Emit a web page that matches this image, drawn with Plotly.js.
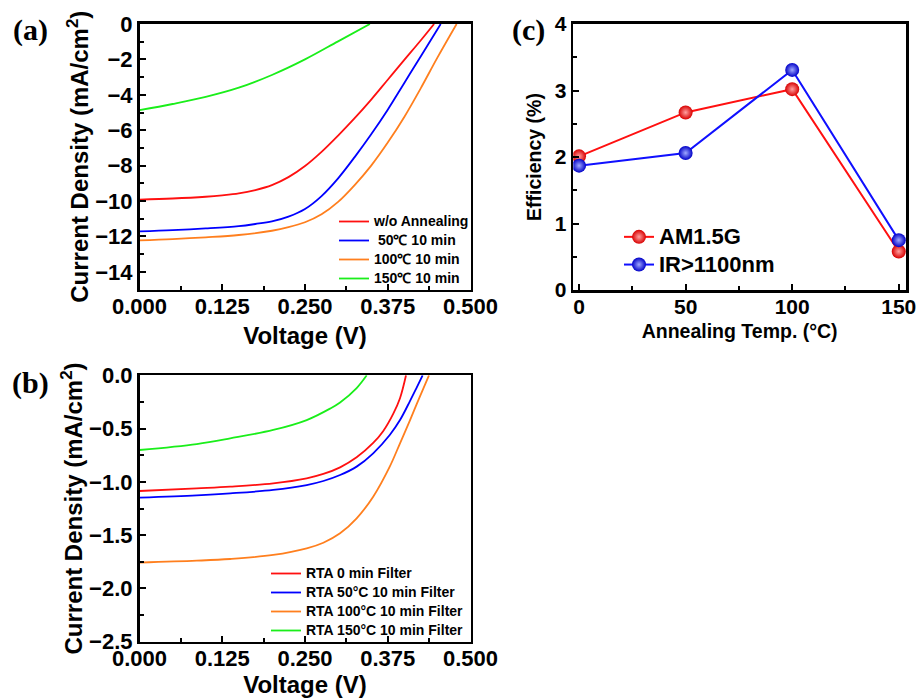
<!DOCTYPE html>
<html>
<head>
<meta charset="utf-8">
<script src="https://cdn.plot.ly/plotly-3.0.1.min.js"></script>
<style>html,body{margin:0;padding:0;background:#fff}#chart{width:918px;height:698px}</style>
</head>
<body>
<div id="chart"></div>
<script>
// ---------- Panel (a): J-V without filter ----------
const aNames = ['w/o Annealing', '\u00A050\u2103 10 min', '100\u2103 10 min', '150\u2103 10 min'];
const aRedV = [0, 0.05, 0.1, 0.125, 0.15, 0.175, 0.2, 0.225, 0.25, 0.275, 0.3, 0.325, 0.35, 0.375, 0.4, 0.425, 0.445];
const aRedJ = [-9.92, -9.86, -9.76, -9.68, -9.57, -9.38, -9.1, -8.65, -8.02, -7.22, -6.3, -5.32, -4.27, -3.15, -2.03, -0.92, 0];
const aBlueV = [0, 0.05, 0.1, 0.15, 0.175, 0.2, 0.225, 0.25, 0.275, 0.3, 0.325, 0.35, 0.375, 0.4, 0.425, 0.455];
const aBlueJ = [-11.72, -11.65, -11.55, -11.42, -11.3, -11.15, -10.88, -10.45, -9.72, -8.72, -7.52, -6.23, -4.84, -3.33, -1.82, 0];
const aOrangeV = [0, 0.05, 0.1, 0.15, 0.2, 0.225, 0.25, 0.275, 0.3, 0.325, 0.35, 0.375, 0.4, 0.425, 0.45, 0.479];
const aOrangeJ = [-12.22, -12.15, -12.05, -11.92, -11.68, -11.48, -11.2, -10.75, -10.05, -9.1, -8.0, -6.7, -5.25, -3.62, -1.9, 0];
const aGreenV = [0, 0.05, 0.1, 0.15, 0.2, 0.25, 0.3, 0.348];
const aGreenJ = [-4.87, -4.52, -4.12, -3.6, -2.88, -2.0, -0.98, 0];

// ---------- Panel (b): J-V with filter ----------
const bNames = ['RTA 0 min Filter', 'RTA 50\u00B0C 10 min Filter', 'RTA 100\u00B0C 10 min Filter', 'RTA 150\u00B0C 10 min Filter'];
const bRedV = [0, 0.0864, 0.137, 0.202, 0.2526, 0.2777, 0.303, 0.328, 0.353, 0.368, 0.3834, 0.3935, 0.4026];
const bRedJ = [-1.086, -1.061, -1.045, -1.014, -0.967, -0.926, -0.864, -0.77, -0.635, -0.525, -0.36, -0.215, 0];
const bBlueV = [0, 0.0864, 0.137, 0.202, 0.2526, 0.2777, 0.303, 0.328, 0.353, 0.378, 0.3935, 0.4087, 0.4187, 0.4277];
const bBlueJ = [-1.148, -1.126, -1.108, -1.076, -1.03, -0.992, -0.936, -0.857, -0.732, -0.56, -0.42, -0.24, -0.115, 0];
const bOrangeV = [0, 0.0864, 0.137, 0.202, 0.2526, 0.2777, 0.303, 0.328, 0.353, 0.378, 0.3935, 0.4087, 0.4187, 0.4287, 0.4373];
const bOrangeJ = [-1.758, -1.74, -1.724, -1.686, -1.624, -1.571, -1.483, -1.342, -1.139, -0.857, -0.638, -0.42, -0.27, -0.125, 0];
const bGreenV = [0, 0.0864, 0.137, 0.202, 0.2526, 0.2878, 0.303, 0.328, 0.3432];
const bGreenJ = [-0.701, -0.645, -0.592, -0.513, -0.42, -0.313, -0.255, -0.12, 0];

// ---------- Panel (c): efficiency vs annealing temperature ----------
const cTemps = [0, 50, 100, 150];
const cAM15G = [2.01, 2.67, 3.02, 0.58];
const cIR = [1.87, 2.06, 3.31, 0.75];
const cNames = ['AM1.5G', 'IR>1100nm'];

const colors = ['#ff1010', '#0000ff', '#ff7f1e', '#1aee1a'];
const FONT = 'Liberation Sans, Arial, sans-serif';
const W = 918, H = 698;
const px = v => v / W;
const py = v => 1 - v / H;
const big = (t, s) => '<span style="font-size:' + s + 'px">' + t + '</span>';

function jv(x, y, name, color, xa, ya, leg) {
  return {x, y, name: big(name, 14), type: 'scatter', mode: 'lines', xaxis: xa, yaxis: ya, legend: leg,
          line: {color, width: 1.8, shape: 'spline', smoothing: 1}};
}

const traces = [
  jv(aRedV, aRedJ, aNames[0], colors[0], 'x', 'y', 'legend'),
  jv(aBlueV, aBlueJ, aNames[1], colors[1], 'x', 'y', 'legend'),
  jv(aOrangeV, aOrangeJ, aNames[2], colors[2], 'x', 'y', 'legend'),
  jv(aGreenV, aGreenJ, aNames[3], colors[3], 'x', 'y', 'legend'),
  jv(bRedV, bRedJ, bNames[0], colors[0], 'x2', 'y2', 'legend2'),
  jv(bBlueV, bBlueJ, bNames[1], colors[1], 'x2', 'y2', 'legend2'),
  jv(bOrangeV, bOrangeJ, bNames[2], colors[2], 'x2', 'y2', 'legend2'),
  jv(bGreenV, bGreenJ, bNames[3], colors[3], 'x2', 'y2', 'legend2'),
  {x: cTemps, y: cAM15G, name: big(cNames[0], 22), type: 'scatter', mode: 'lines+markers', xaxis: 'x3', yaxis: 'y3', legend: 'legend3',
   line: {color: '#ff1010', width: 2},
   marker: {size: 14, color: '#d80000', gradient: {type: 'radial', color: '#ffa0a0'}, line: {width: 0}}},
  {x: cTemps, y: cIR, name: big(cNames[1], 22), type: 'scatter', mode: 'lines+markers', xaxis: 'x3', yaxis: 'y3', legend: 'legend3',
   line: {color: '#1010ff', width: 2},
   marker: {size: 14, color: '#0000c8', gradient: {type: 'radial', color: '#a0a8ff'}, line: {width: 0}}}
];

function axis(domain, range, dtick, minorDtick, title, fsize, tsize, standoff, extra) {
  return Object.assign({
    domain, range, dtick, tick0: 0, autorange: false,
    showline: true, mirror: true, linecolor: 'black', linewidth: 2.6,
    ticks: 'inside', ticklen: 6, tickwidth: 2, tickcolor: 'black',
    minor: {ticks: 'inside', ticklen: 4, tickwidth: 2, tickcolor: 'black', dtick: minorDtick, tick0: 0},
    showgrid: false, zeroline: false,
    tickfont: {family: FONT, size: tsize, color: 'black', weight: 'bold'},
    title: {text: title, font: {family: FONT, size: fsize, color: 'black', weight: 'bold'}, standoff}
  }, extra || {});
}

const xA = [px(139.5), px(470.5)];
const xC = [px(573.3), px(906)];

const layout = {
  width: W, height: H,
  margin: {l: 0, r: 0, t: 0, b: 0},
  paper_bgcolor: 'white', plot_bgcolor: 'white',
  font: {family: FONT, color: 'black'},
  xaxis: axis(xA, [0, 0.5], 0.125, 0.0625, 'Voltage (V)', 24, 22, 10, {anchor: 'y', tickformat: '.3f', ticklabelstandoff: -5}),
  yaxis: axis([py(289.5), py(24)], [-15, 0], 2, 1, 'Current Density (mA/cm<sup>2</sup>)', 24, 22, 0, {anchor: 'x'}),
  xaxis2: axis(xA, [0, 0.5], 0.125, 0.0625, 'Voltage (V)', 24, 22, 8, {anchor: 'y2', tickformat: '.3f', ticklabelstandoff: -5}),
  yaxis2: axis([py(641.7), py(375.3)], [-2.5, 0], 0.5, 0.25, 'Current Density (mA/cm<sup>2</sup>)', 24, 22, 0, {anchor: 'x2', tickformat: '.1f'}),
  xaxis3: axis(xC, [-2.7, 153.4], 50, 25, 'Annealing Temp. (\u00B0C)', 19.5, 21, 8, {anchor: 'y3', ticklabelstandoff: -4}),
  yaxis3: axis([py(290), py(24)], [0, 4], 1, 0.5, 'Efficiency (%)', 19.5, 21, 8, {anchor: 'x3'}),
  legend: {x: px(334), xanchor: 'left', y: py(207), yanchor: 'top', bgcolor: 'rgba(0,0,0,0)',
           font: {family: FONT, size: 11, color: 'black', weight: 'bold'}, tracegroupgap: 0},
  legend2: {x: px(266), xanchor: 'left', y: py(559), yanchor: 'top', bgcolor: 'rgba(0,0,0,0)',
            font: {family: FONT, size: 11, color: 'black', weight: 'bold'}, tracegroupgap: 0},
  legend3: {x: px(619), xanchor: 'left', y: py(218), yanchor: 'top', bgcolor: 'rgba(0,0,0,0)',
            font: {family: FONT, size: 19, color: 'black', weight: 'bold'}, tracegroupgap: 0},
  showlegend: true,
  annotations: [
    {text: '(a)', xref: 'paper', yref: 'paper', x: px(30), y: py(30), xanchor: 'center', yanchor: 'middle', showarrow: false,
     font: {family: 'Liberation Serif, Times New Roman, serif', size: 30, color: 'black', weight: 'bold'}},
    {text: '(b)', xref: 'paper', yref: 'paper', x: px(30), y: py(383), xanchor: 'center', yanchor: 'middle', showarrow: false,
     font: {family: 'Liberation Serif, Times New Roman, serif', size: 30, color: 'black', weight: 'bold'}},
    {text: '(c)', xref: 'paper', yref: 'paper', x: px(528), y: py(30), xanchor: 'center', yanchor: 'middle', showarrow: false,
     font: {family: 'Liberation Serif, Times New Roman, serif', size: 30, color: 'black', weight: 'bold'}}
  ]
};

Plotly.newPlot('chart', traces, layout, {staticPlot: true, displayModeBar: false});
</script>
</body>
</html>
